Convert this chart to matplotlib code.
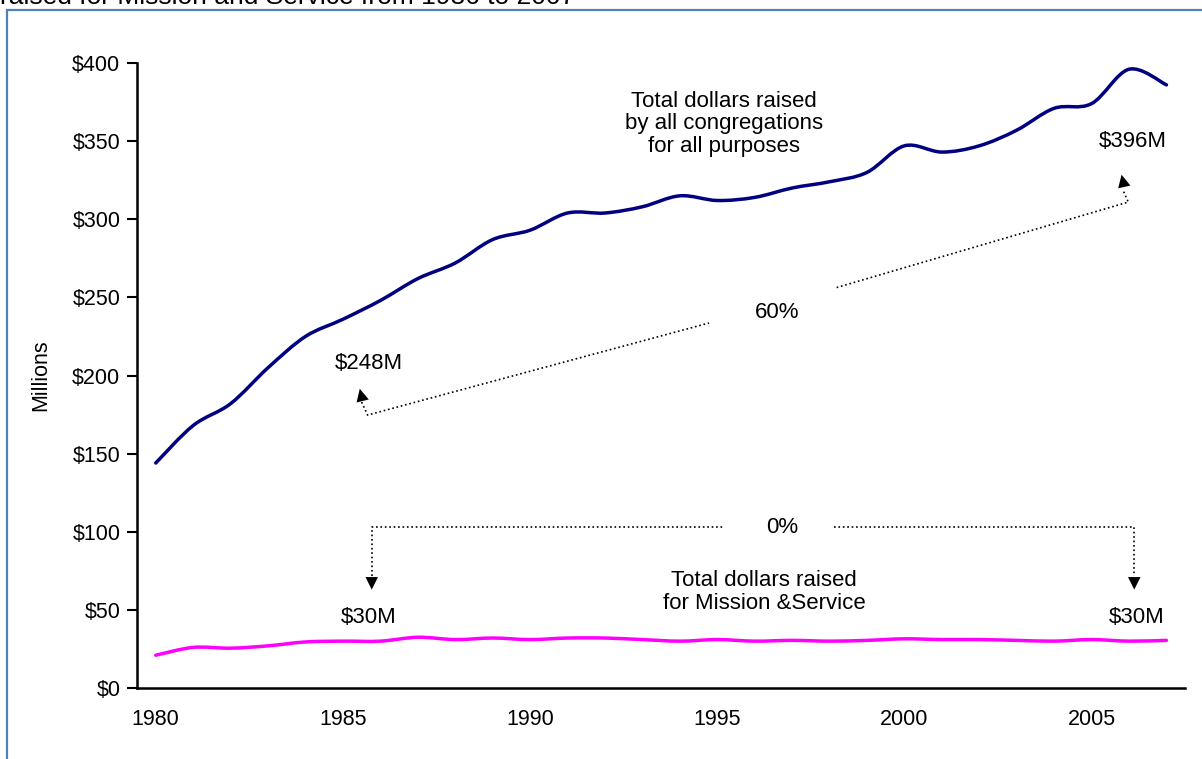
import numpy as np
import matplotlib
matplotlib.use("Agg")
import matplotlib.pyplot as plt
from matplotlib.path import Path
from matplotlib.patches import PathPatch, Rectangle

plt.rcParams['font.family'] = ['Liberation Sans', 'DejaVu Sans']

# yearly totals, millions of dollars
years = np.arange(1980, 2008)
all_purposes = [144, 168, 182, 205, 225, 236, 248, 262, 272, 287,
                293, 304, 304, 308, 315, 312, 314, 320, 324, 330,
                347, 343, 347, 357, 371, 374, 396, 386]
mission_service = [21, 26, 25.5, 27, 29.5, 30, 30, 32.5, 31, 32,
                   31, 32, 32, 31, 30, 31, 30, 30.5, 30, 30.5,
                   31.5, 31, 31, 30.5, 30, 31, 30, 30.5]

yticks = np.arange(0, 401, 50)
xticks = [1980, 1985, 1990, 1995, 2000, 2005]

FS = 16      # annotation text
TFS = 15.5   # tick labels


def smooth_path(x, y):
  # bezier segments through every point, like a spreadsheet "smoothed line"
  x = np.asarray(x, float)
  y = np.asarray(y, float)
  pts = np.column_stack([x, y])
  verts = [pts[0]]
  codes = [Path.MOVETO]
  n = len(pts)
  for i in range(n - 1):
    p0 = pts[max(i - 1, 0)]
    p1 = pts[i]
    p2 = pts[i + 1]
    p3 = pts[min(i + 2, n - 1)]
    c1 = p1 + (p2 - p0) / 6.0
    c2 = p2 - (p3 - p1) / 6.0
    verts += [c1, c2, p2]
    codes += [Path.CURVE4] * 3
  return Path(verts, codes)


def head(ax, tip, base):
  ax.annotate('', xy=tip, xytext=base,
              arrowprops=dict(arrowstyle='-|>,head_length=0.9,head_width=0.45',
                              color='black', lw=0.01, shrinkA=0, shrinkB=0,
                              mutation_scale=10))


fig = plt.figure(figsize=(12.02, 7.59), dpi=100)
ax = fig.add_axes([0.114, 0.0935, 0.872, 0.8235])

ax.add_patch(PathPatch(smooth_path(years, all_purposes), fill=False,
                       edgecolor='#000080', lw=2.5, capstyle='round'))
ax.add_patch(PathPatch(smooth_path(years, mission_service), fill=False,
                       edgecolor='#FF00FF', lw=2.5, capstyle='round'))

ax.set_xlim(1979.5, 2007.5)
ax.set_ylim(0, 400)
ax.set_yticks(yticks)
ax.set_yticklabels(['${:d}'.format(int(v)) for v in yticks])
ax.set_xticks(xticks)
ax.set_xticklabels([str(v) for v in xticks])
ax.tick_params(axis='y', direction='out', length=7, width=1.5, labelsize=TFS, pad=5)
ax.tick_params(axis='x', length=0, labelsize=TFS, pad=15)
for s in ['top', 'right']:
  ax.spines[s].set_visible(False)
for s in ['left', 'bottom']:
  ax.spines[s].set_linewidth(1.8)
ax.set_ylabel('Millions', fontsize=TFS, labelpad=15)

dot = dict(color='black', ls=':', lw=1.2)

# growth of all-purpose giving, 1986 -> 2006
ax.plot([1985.5, 1985.66, 1994.78], [183, 174.7, 233.6], **dot)
ax.plot([1998.19, 2005.98, 2005.85], [256.3, 311, 318], **dot)
head(ax, (1985.45, 191.5), (1985.53, 183.5))
head(ax, (2005.8, 328.5), (2005.88, 320))
ax.text(1996.6, 240.6, '60%', fontsize=FS, ha='center', va='center')
ax.text(1985.7, 208, '$248M', fontsize=FS, ha='center', va='center')
ax.text(2006.1, 350, '$396M', fontsize=FS, ha='center', va='center')

# mission & service, flat
ax.plot([1985.77, 1985.77, 1995.18], [72, 103, 103], **dot)
ax.plot([1998.11, 2006.14, 2006.14], [103, 103, 72], **dot)
head(ax, (1985.77, 63), (1985.77, 72.5))
head(ax, (2006.14, 63), (2006.14, 72.5))
ax.text(1996.73, 103, '0%', fontsize=FS, ha='center', va='center')
ax.text(1985.7, 45, '$30M', fontsize=FS, ha='center', va='center')
ax.text(2006.2, 45, '$30M', fontsize=FS, ha='center', va='center')

ax.text(1995.18, 361, 'Total dollars raised\nby all congregations\nfor all purposes',
        fontsize=FS, ha='center', va='center', linespacing=1.08)
ax.text(1996.25, 61.4, 'Total dollars raised\nfor Mission &Service',
        fontsize=FS, ha='center', va='center', linespacing=1.08)

# frame and the heading above it
fig.patches.append(Rectangle((7 / 1202, -0.1), 1.2, 0.1 + 1 - 10 / 759,
                             transform=fig.transFigure, fill=False,
                             edgecolor='#4F81BD', lw=1.6))
fig.text(0.0, 1 - 4 / 759, 'raised for Mission and Service from 1986 to 2007',
         fontsize=19, ha='left', va='baseline')

fig.savefig('out.png', dpi=100)
